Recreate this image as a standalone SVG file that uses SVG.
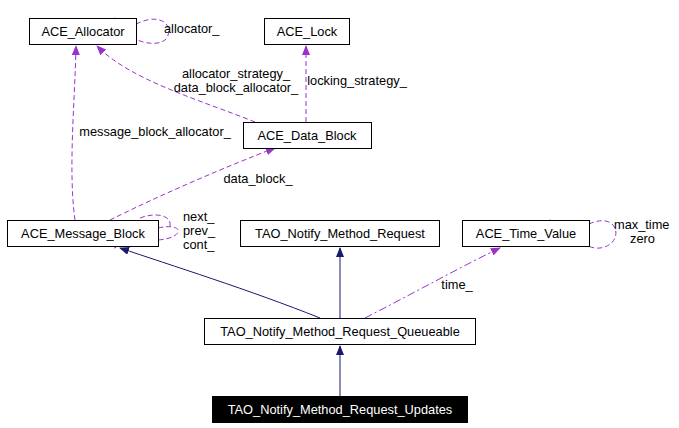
<svg xmlns="http://www.w3.org/2000/svg" width="679" height="428" viewBox="0 0 679 428">
<defs>
<style>
text{font-family:"Liberation Sans",Arial,sans-serif;font-size:12.8px;fill:#000}
.n rect{fill:#fff;stroke:#000;stroke-width:1}
.n text{text-anchor:middle}
.s{fill:none;stroke:#191970;stroke-width:1}
.d{fill:none;stroke:#9a32cd;stroke-width:1;stroke-dasharray:5,3}
.l{text-anchor:middle}
</style>
<marker id="an" markerWidth="10" markerHeight="8" refX="9" refY="4" orient="auto" markerUnits="userSpaceOnUse"><path d="M0,0L10,4L0,8z" fill="#191970"/></marker>
<marker id="ap" markerWidth="10" markerHeight="8" refX="9" refY="4" orient="auto" markerUnits="userSpaceOnUse"><path d="M0,0L10,4L0,8z" fill="#9a32cd"/></marker>
</defs>
<g id="connectors">
<path class="s" marker-end="url(#an)" d="M340,396L340,346"/>
<path class="s" marker-end="url(#an)" d="M340,318L340,248"/>
<path class="s" marker-end="url(#an)" d="M320,318C250,290 170,265 120,248"/>
<path class="d" style="stroke-dasharray:8,3,2,3" marker-end="url(#ap)" d="M365,318C410,295 470,262 500,248"/>
<text class="l" x="457" y="289">time_</text>
<path class="d" marker-end="url(#ap)" d="M110,220C160,195 230,165 275,148"/>
<text class="l" x="258" y="183">data_block_</text>
<path class="d" marker-end="url(#ap)" d="M75,220C68,170 75,100 76,46"/>
<text class="l" x="155" y="136">message_block_allocator_</text>
<path class="d" marker-end="url(#ap)" d="M158,228C185,222 185,238 158,240C135,242 120,235 115,248"/>
<path class="d" d="M140,218C155,212 172,215 170,226"/>
<text x="183" y="221">next_</text>
<text x="183" y="235">prev_</text>
<text x="183" y="249">cont_</text>
<path class="d" marker-end="url(#ap)" d="M255,122C200,100 130,80 97,46"/>
<text class="l" x="236" y="78">allocator_strategy_</text>
<text class="l" x="236" y="92">data_block_allocator_</text>
<path class="d" marker-end="url(#ap)" d="M306,122L306,46"/>
<text class="l" x="357" y="85">locking_strategy_</text>
<path class="d" marker-end="url(#ap)" d="M136,24C165,10 175,30 165,40C155,48 125,42 115,18"/>
<text x="164" y="33">allocator_</text>
<path class="d" marker-end="url(#ap)" d="M589,224C620,210 625,245 600,248C585,250 560,230 550,220"/>
<text x="614" y="229">max_time</text>
<text x="630" y="243">zero</text>
</g>
<g id="ACE_Allocator" class="n"><rect x="29.5" y="18.5" width="107" height="26"/><text x="83" y="36">ACE_Allocator</text></g>
<g id="ACE_Lock" class="n"><rect x="264.5" y="18.5" width="85" height="26"/><text x="307" y="36">ACE_Lock</text></g>
<g id="ACE_Data_Block" class="n"><rect x="243.5" y="122.5" width="128" height="26"/><text x="307" y="140">ACE_Data_Block</text></g>
<g id="ACE_Message_Block" class="n"><rect x="7.5" y="220.5" width="151" height="26"/><text x="83" y="238">ACE_Message_Block</text></g>
<g id="TAO_Notify_Method_Request" class="n"><rect x="240.5" y="220.5" width="199" height="26"/><text x="340" y="238">TAO_Notify_Method_Request</text></g>
<g id="ACE_Time_Value" class="n"><rect x="462.5" y="220.5" width="127" height="26"/><text x="526" y="238">ACE_Time_Value</text></g>
<g id="TAO_Notify_Method_Request_Queueable" class="n"><rect x="204.5" y="318.5" width="271" height="26"/><text x="340" y="336">TAO_Notify_Method_Request_Queueable</text></g>
<g id="TAO_Notify_Method_Request_Updates"><rect x="212.5" y="396.5" width="255" height="26" fill="#000" stroke="#000"/><text x="340" y="414" text-anchor="middle" style="fill:#fff">TAO_Notify_Method_Request_Updates</text></g>
</svg>
